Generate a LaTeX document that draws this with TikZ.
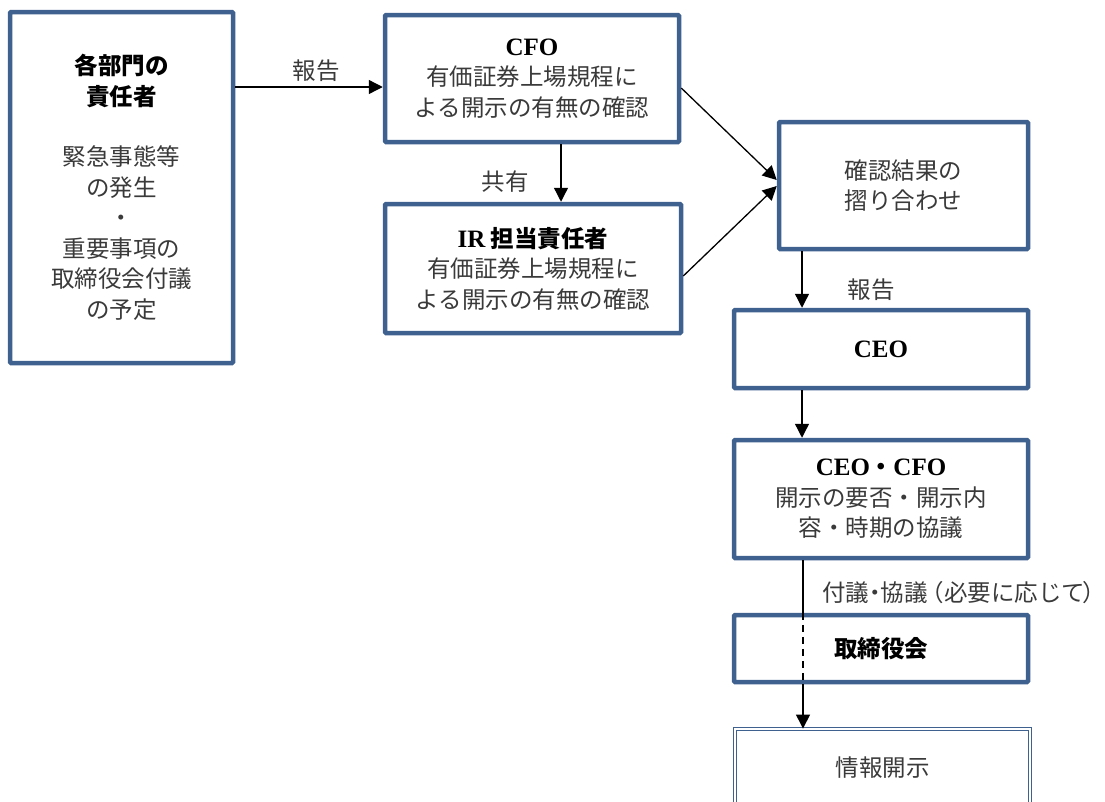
\documentclass[tikz,border=0pt]{standalone}
\usepackage{fontspec}
\setmainfont{Liberation Serif}
\newfontfamily\jp{Noto Sans CJK JP}
\newfontfamily\lat{Liberation Serif}
\usetikzlibrary{arrows.meta,calc}
\definecolor{boxblue}{HTML}{3F6190}
\definecolor{txt}{HTML}{3A3A3A}
\tikzset{
  box/.style={draw=boxblue, line width=4.5pt, rounded corners=1pt, align=center, inner sep=0pt, fill=white,
    font=\jp\fontsize{23.5}{30.5}\selectfont, text=txt},
  lbl/.style={font=\jp\fontsize{23.5}{30}\selectfont, text=txt, inner sep=0pt},
  arr/.style={line width=1.3pt, -{Triangle[length=14pt,width=14pt]}},
  ln/.style={line width=1.3pt},
}
\newcommand{\ttl}[1]{{\color{black}\bfseries #1}}
\begin{document}
\begin{tikzpicture}[x=1pt,y=-1pt]
\useasboundingbox (0,0) rectangle (1105,801);
\node[box, minimum width=223pt, minimum height=351pt] (dept) at (121.5,187.5)
  {\ttl{各部門の}\\\ttl{責任者}\\[30pt]緊急事態等\\の発生\\・\\重要事項の\\取締役会付議\\の予定};
\node[box, minimum width=294pt, minimum height=127pt] (cfo) at (532,78.5)
  {\ttl{\lat\fontsize{25}{30}\selectfont CFO}\\有価証券上場規程に\\よる開示の有無の確認};
\node[box, minimum width=296pt, minimum height=129pt] (ir) at (533,268.5)
  {\ttl{{\lat\fontsize{25}{30}\selectfont IR} 担当責任者}\\有価証券上場規程に\\よる開示の有無の確認};
\node[box, minimum width=249pt, minimum height=127pt] (chk) at (903.5,185.5)
  {確認結果の\\摺り合わせ};
\node[box, minimum width=294pt, minimum height=78pt] (ceo) at (881,349)
  {\ttl{\lat\fontsize{25}{30}\selectfont CEO}};
\node[box, minimum width=294pt, minimum height=118pt] (both) at (881,499)
  {\ttl{{\lat\fontsize{25}{30}\selectfont CEO}・{\lat\fontsize{25}{30}\selectfont CFO}}\\開示の要否・開示内\\容・時期の協議};
\node[box, minimum width=294pt, minimum height=67pt] (board) at (881,648.5)
  {\ttl{取締役会}};
\node[draw=boxblue, line width=0.9pt, double=white, double distance=2.2pt, minimum width=295pt, minimum height=78pt,
  font=\jp\fontsize{23.5}{30}\selectfont, text=txt, inner sep=0pt] (disc) at (882.5,768) {情報開示};

\draw[arr] (dept.east |- 0,87) -- (cfo.west |- 0,87) node[lbl, midway, above=5pt, xshift=7pt] (l1) {報告};
\draw[arr] (cfo.south -| 561,0) -- (ir.north -| 561,0);
\node[lbl] (l2) at (505,182) {共有};
\draw[arr] (cfo.east |- 0,88) -- (chk.west |- 0,180);
\draw[arr] (ir.east |- 0,276) -- (chk.west |- 0,186);
\draw[arr] (chk.south -| 802,0) -- (ceo.north -| 802,0);
\node[lbl] (l3) at (871,290) {報告};
\draw[arr] (ceo.south -| 802,0) -- (both.north -| 802,0);
\draw[ln] (both.south -| 803,0) -- (board.north -| 803,0);
\draw[ln, dash pattern=on 7pt off 5pt] (board.north -| 803,0) -- (board.south -| 803,0);
\draw[arr] (board.south -| 803,0) -- (disc.north -| 803,0);
\node[lbl, anchor=west] (l4) at (822,593) {付議{\kern-6pt}・{\kern-6pt}協議{\kern-7pt}（必要に応じて{\kern-3pt}）};
\end{tikzpicture}
\end{document}
